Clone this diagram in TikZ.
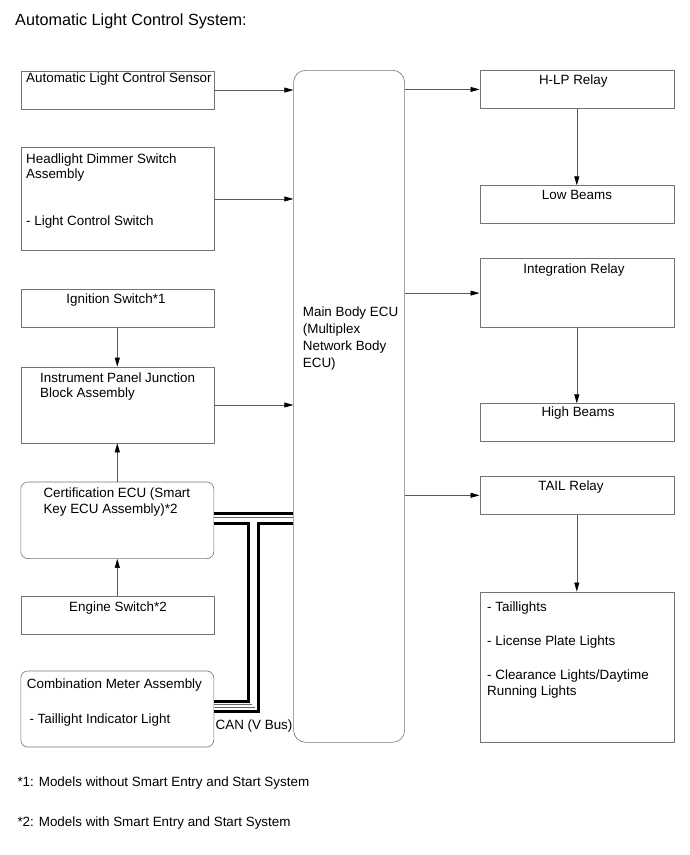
\documentclass[tikz,border=0pt]{standalone}
\usepackage{fontspec}
\setmainfont{Liberation Sans}
\usetikzlibrary{arrows.meta,positioning}

\tikzset{
  box/.style={draw=black!55, line width=0.6pt, anchor=north west, inner sep=0pt},
  rbox/.style={box, rounded corners=7pt},
  lbl/.style={font=\fontsize{13.4}{16}\selectfont, inner sep=0pt, anchor=base west},
  clbl/.style={lbl, anchor=base},
  sig/.style={draw=black!65, line width=0.6pt, -{Triangle[length=9pt,width=5pt,color=black]}},
}

\begin{document}
\begin{tikzpicture}[x=1pt,y=-1pt]
  \useasboundingbox (0,0) rectangle (690,855);
  \node[font=\fontsize{16.2}{19}\selectfont, inner sep=0pt, anchor=base west] (title) at (15,25.7) {Automatic Light Control System:};

  % inputs
  \node[box, minimum width=193pt, minimum height=37.5pt] (als) at (20.5,71) {};
  \node[box, minimum width=193pt, minimum height=102.7pt] (hds) at (20.5,147.3) {};
  \node[box, minimum width=193pt, minimum height=38pt] (ign) at (20.5,289.3) {};
  \node[box, minimum width=193pt, minimum height=76pt] (ipj) at (20.5,366.7) {};
  \node[rbox, minimum width=193pt, minimum height=76.6pt] (cert) at (20.5,481.7) {};
  \node[box, minimum width=193pt, minimum height=38pt] (eng) at (20.5,596) {};
  \node[rbox, minimum width=193pt, minimum height=76pt] (meter) at (20.5,670.7) {};

  % main ECU
  \node[box, rounded corners=12pt, minimum width=111pt, minimum height=672pt] (ecu) at (293.3,70) {};

  % outputs
  \node[box, minimum width=194pt, minimum height=38.3pt] (hlp) at (479.5,70) {};
  \node[box, minimum width=194pt, minimum height=37.4pt] (low) at (479.5,185.3) {};
  \node[box, minimum width=194pt, minimum height=69pt] (integ) at (479.5,258.3) {};
  \node[box, minimum width=194pt, minimum height=37.7pt] (high) at (479.5,403.3) {};
  \node[box, minimum width=194pt, minimum height=38pt] (tail) at (479.5,476) {};
  \node[box, minimum width=194pt, minimum height=150.5pt] (lamps) at (479.5,591.5) {};

  % signal lines
  \draw[sig] (als.east) -- (als.east -| ecu.west);
  \draw[sig] (hds.east) -- (hds.east -| ecu.west);
  \draw[sig] (ipj.east) -- (ipj.east -| ecu.west);
  \draw[sig] (ign.south) -- (ipj.north);
  \draw[sig] (cert.north) -- (ipj.south);
  \draw[sig] (eng.north) -- (cert.south);
  \draw[sig] (hlp.west -| ecu.east) -- (hlp.west);
  \draw[sig] (integ.west -| ecu.east) -- (integ.west);
  \draw[sig] (tail.west -| ecu.east) -- (tail.west);
  \draw[sig] (hlp.south) -- (low.north);
  \draw[sig] (integ.south) -- (high.north);
  \draw[sig] (tail.south) -- (lamps.north);

  % CAN bus
  \coordinate (tj) at (253.3,518.7);
  \coordinate (cj) at (253.3,706);
  \foreach \w/\c in {13pt/black, 7pt/white} {
    \draw[line width=\w, \c] (cert.east |- tj) -- (ecu.west |- tj);
    \draw[line width=\w, \c] (tj) -- (cj) -- (meter.east |- cj);
  }
  \draw[black!60, line width=0.5pt, double=white, double distance=2.4pt] (cert.east |- tj) -- (ecu.west |- tj);
  \draw[black!60, line width=0.5pt, double=white, double distance=2.4pt] (tj) -- (cj) -- (meter.east |- cj);

  % texts
  \node[lbl] (alsT) at (26,82.7) {Automatic Light Control Sensor};
  \node[lbl] (hdsT1) at (26,163.3) {Headlight Dimmer Switch};
  \node[lbl] (hdsT2) at (26,178.5) {Assembly};
  \node[lbl] (hdsT3) at (26,225) {- Light Control Switch};
  \node[clbl] (ignT) at (116,303.3) {Ignition Switch*1};
  \node[lbl] (ipjT1) at (40,382.3) {Instrument Panel Junction};
  \node[lbl] (ipjT2) at (40,397.7) {Block Assembly};
  \node[lbl] (certT1) at (43.3,497.3) {Certification ECU (Smart};
  \node[lbl] (certT2) at (43.3,513.3) {Key ECU Assembly)*2};
  \node[clbl] (engT) at (118,611) {Engine Switch*2};
  \node[lbl] (meterT1) at (26.7,688.3) {Combination Meter Assembly};
  \node[lbl] (meterT2) at (29.3,723.3) {- Taillight Indicator Light};
  \node[lbl] (canT) at (215.5,729.5) {CAN (V Bus)};

  \node[lbl] (ecuT1) at (302.7,316.7) {Main Body ECU};
  \node[lbl] (ecuT2) at (302.7,333.7) {(Multiplex};
  \node[lbl] (ecuT3) at (302.7,350.7) {Network Body};
  \node[lbl] (ecuT4) at (302.7,367.7) {ECU)};

  \node[clbl] (hlpT) at (573.3,84) {H-LP Relay};
  \node[clbl] (lowT) at (577,199.3) {Low Beams};
  \node[clbl] (integT) at (574,273.3) {Integration Relay};
  \node[clbl] (highT) at (578,416.7) {High Beams};
  \node[clbl] (tailT) at (571,490.7) {TAIL Relay};
  \node[lbl] (lampsT1) at (487,611) {- Taillights};
  \node[lbl] (lampsT2) at (487,645) {- License Plate Lights};
  \node[lbl] (lampsT3) at (487,679) {- Clearance Lights/Daytime};
  \node[lbl] (lampsT4) at (487,695) {Running Lights};

  % footnotes
  \node[lbl] (note1) at (17.3,786.7) {*1: Models without Smart Entry and Start System};
  \node[lbl] (note2) at (17.3,826.7) {*2: Models with Smart Entry and Start System};
\end{tikzpicture}
\end{document}
